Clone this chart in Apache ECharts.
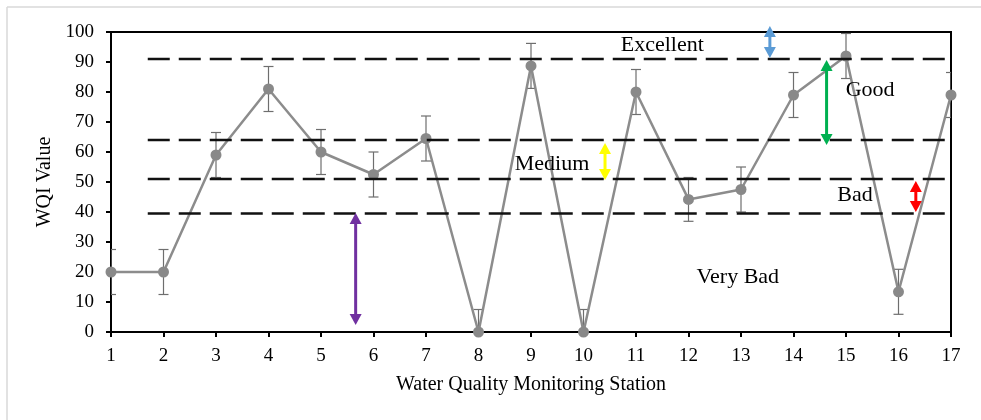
<!DOCTYPE html>
<html>
<head>
<meta charset="utf-8">
<script src="https://cdn.jsdelivr.net/npm/echarts@6/dist/echarts.min.js"></script>
<style>html,body{margin:0;padding:0;background:#fff;}#c{width:981px;height:420px;}</style>
</head>
<body>
<div id="c"></div>
<script>
// ---- data ----
const stations = [1,2,3,4,5,6,7,8,9,10,11,12,13,14,15,16,17];
const wqi      = [20,20,59,81,60,52.5,64.5,0,88.7,0,80,44.2,47.5,79,92,13.4,79];
const wqiError = [7.5,7.5,7.5,7.5,7.5,7.5,7.5,7.5,7.5,7.5,7.5,7.3,7.5,7.5,7.5,7.5,7.5];
const classLevels = [91, 64, 51, 39.5];
const classLineSpan = [1.7, 17.19];
const classNames = ['Excellent','Good','Medium','Bad','Very Bad'];
const classLabelX = [11.5, 15.46, 9.4, 15.17, 12.94];
const classLabelY = [95.5, 80.7, 56, 45.7, 18.3];
const arrowX    = [13.55, 14.63, 10.41, 16.33, 5.66];
const arrowFrom = [102, 90.7, 63, 50.3, 39.7];
const arrowTo   = [91.3, 62.3, 50.7, 40, 2.3];
const arrowColors = ['#5b9bd5','#00b050','#ffff00','#ff0000','#7030a0'];
const yTicks = {min:0, max:100, interval:10};
const xTicks = {min:1, max:17, interval:1};

const FONT = 'Liberation Serif';
const chart = echarts.init(document.getElementById('c'), null, {renderer:'canvas'});

const lineData = stations.map((s,i)=>[s, wqi[i]]);
const errData = stations.map((s,i)=>[s, wqi[i]-wqiError[i], wqi[i]+wqiError[i]]);
const arrowData = arrowX.map((x,i)=>[x, arrowFrom[i], arrowTo[i], i]);

const classSeries = classLevels.map(v=>({
  type:'line', data:[[classLineSpan[0], v],[classLineSpan[1], v]], silent:true, clip:false, z:5,
  symbol:'none', lineStyle:{color:'#111', width:2.6, type:[22,9]}
}));

const option = {
  animation:false,
  backgroundColor:'#fff',
  graphic:[
    {type:'line', shape:{x1:7,y1:7,x2:981,y2:7}, style:{stroke:'#d9d9d9', lineWidth:1.5}, silent:true},
    {type:'line', shape:{x1:7,y1:7,x2:7,y2:420}, style:{stroke:'#d9d9d9', lineWidth:1.5}, silent:true}
  ],
  grid:{left:111, right:30, top:32, bottom:88, show:true, borderColor:'#000', borderWidth:2, backgroundColor:'transparent'},
  xAxis:{
    type:'value', min:xTicks.min, max:xTicks.max, interval:xTicks.interval,
    name:'Water Quality Monitoring Station', nameLocation:'middle', nameGap:43,
    nameTextStyle:{fontFamily:FONT, fontSize:20, color:'#000'},
    axisLine:{show:true, onZero:false, lineStyle:{color:'#000', width:2}},
    axisTick:{show:true, length:5, lineStyle:{color:'#000', width:2}},
    axisLabel:{fontFamily:FONT, fontSize:19, color:'#000', margin:15},
    splitLine:{show:false}
  },
  yAxis:{
    type:'value', min:yTicks.min, max:yTicks.max, interval:yTicks.interval,
    name:'WQI Value', nameLocation:'middle', nameGap:52, nameRotate:90,
    nameTextStyle:{fontFamily:FONT, fontSize:20, color:'#000'},
    axisLine:{show:true, lineStyle:{color:'#000', width:2}},
    axisTick:{show:true, length:5, lineStyle:{color:'#000', width:2}},
    axisLabel:{fontFamily:FONT, fontSize:19, color:'#000', margin:17},
    splitLine:{show:false}
  },
  series: classSeries.concat([
    {
      type:'custom', name:'error', data:errData, clip:true, z:3,
      renderItem:function(params, api){
        const x = api.value(0), lo = api.value(1), hi = api.value(2);
        const a = api.coord([x, hi]), b = api.coord([x, lo]);
        const w = 5;
        const st = {stroke:'#6e6e6e', lineWidth:1.2};
        return {type:'group', children:[
          {type:'line', shape:{x1:a[0],y1:a[1],x2:b[0],y2:b[1]}, style:st},
          {type:'line', shape:{x1:a[0]-w,y1:a[1],x2:a[0]+w,y2:a[1]}, style:st},
          {type:'line', shape:{x1:b[0]-w,y1:b[1],x2:b[0]+w,y2:b[1]}, style:st}
        ]};
      }
    },
    {
      type:'line', name:'WQI', data:lineData, clip:false, z:4,
      symbol:'circle', symbolSize:11,
      lineStyle:{color:'#8c8c8c', width:2.5},
      itemStyle:{color:'#898989'}
    },
    {
      type:'custom', name:'arrows', data:arrowData, clip:false, z:6, silent:true,
      renderItem:function(params, api){
        const x = api.value(0);
        const p1 = api.coord([x, api.value(1)]), p2 = api.coord([x, api.value(2)]);
        const col = arrowColors[api.value(3)];
        const top = Math.min(p1[1], p2[1]), bot = Math.max(p1[1], p2[1]);
        const hw = 6, hl = 11;
        return {type:'group', children:[
          {type:'line', shape:{x1:p1[0], y1:top+hl-2, x2:p1[0], y2:bot-hl+2}, style:{stroke:col, lineWidth:3}},
          {type:'polygon', shape:{points:[[p1[0],top],[p1[0]-hw,top+hl],[p1[0]+hw,top+hl]]}, style:{fill:col}},
          {type:'polygon', shape:{points:[[p1[0],bot],[p1[0]-hw,bot-hl],[p1[0]+hw,bot-hl]]}, style:{fill:col}}
        ]};
      }
    },
    {
      type:'scatter', name:'labels', silent:true, symbolSize:0, z:7,
      itemStyle:{opacity:1},
      data: classNames.map((n,i)=>({value:[classLabelX[i], classLabelY[i]], name:n})),
      label:{show:true, position:'inside', formatter:p=>p.name, fontFamily:FONT, fontSize:22, color:'#000', opacity:1}
    }
  ])
};
chart.setOption(option);
</script>
</body>
</html>
